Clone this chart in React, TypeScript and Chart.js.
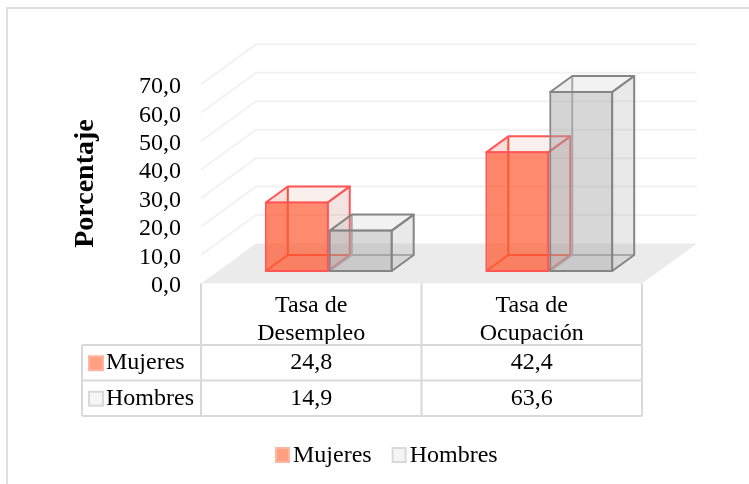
import React, { useEffect, useRef } from "react";
import { Chart, registerables } from "chart.js";

Chart.register(...registerables);

const categories = [["Tasa de", "Desempleo"], ["Tasa de", "Ocupación"]];
const mujeres = [24.8, 42.4];
const hombres = [14.9, 63.6];
const yMax = 70;
const yStep = 10;
const axisMax = 72.05;

const FONT = '"Liberation Serif"';
const fmt = (v: number) => v.toFixed(1).replace(".", ",");

const palette = [
  {
    front: "rgba(255,90,50,0.7)",
    side: "rgba(180,90,70,0.16)",
    top: "rgba(200,100,80,0.1)",
    back: "rgba(255,70,40,0.1)",
    edge: "#FF5555",
    inner: "#FF5238",
    marker: "#FFA083",
    markerEdge: "#FFB5A0",
  },
  {
    front: "rgba(166,166,166,0.45)",
    side: "rgba(166,166,166,0.25)",
    top: "rgba(166,166,166,0.15)",
    back: "rgba(166,166,166,0.06)",
    edge: "#858585",
    inner: "#A8A8A8",
    marker: "#F5F5F5",
    markerEdge: "#D9D9D9",
  },
];

const FLOOR = { dx: 55, dy: -40 };
const BAR = { dx: 22, dy: -16 };
const SHIFT = { x: 17.5, y: -14 };
const PLANE = -2.5; // the drawn floor and walls sit slightly above the tick positions
const GRID = "#F2F2F2";
const TABLE = "#D9D9D9";

function poly(ctx: CanvasRenderingContext2D, pts: number[][], fill?: string) {
  ctx.beginPath();
  pts.forEach((p, i) => (i ? ctx.lineTo(p[0], p[1]) : ctx.moveTo(p[0], p[1])));
  ctx.closePath();
  if (fill) {
    ctx.fillStyle = fill;
    ctx.fill();
  }
}

function seg(ctx: CanvasRenderingContext2D, a: number[], b: number[]) {
  ctx.beginPath();
  ctx.moveTo(a[0], a[1]);
  ctx.lineTo(b[0], b[1]);
  ctx.stroke();
}

function barBox(el: any) {
  return {
    l: el.x - el.width / 2 + 1,
    r: el.x + el.width / 2 - 1,
    t: el.y + 1,
    b: el.base - 1,
  };
}

function backFaces(chart: any, index: number) {
  const { ctx } = chart;
  const c = palette[index];
  const d = BAR;
  for (const el of chart.getDatasetMeta(index).data) {
    const { l, r, t, b } = barBox(el);
    poly(ctx, [[l, b], [r, b], [r + d.dx, b + d.dy], [l + d.dx, b + d.dy]], c.back);
    poly(ctx, [[l, t], [l + d.dx, t + d.dy], [l + d.dx, b + d.dy], [l, b]], c.back);
    ctx.strokeStyle = c.inner;
    ctx.lineWidth = 2;
    seg(ctx, [l, b], [l + d.dx, b + d.dy]);
    seg(ctx, [l + d.dx, b + d.dy], [r + d.dx, b + d.dy]);
    seg(ctx, [l + d.dx, t + d.dy], [l + d.dx, b + d.dy]);
  }
}

function frontFaces(chart: any, index: number) {
  const { ctx } = chart;
  const c = palette[index];
  const d = BAR;
  for (const el of chart.getDatasetMeta(index).data) {
    const { l, r, t, b } = barBox(el);
    ctx.strokeStyle = c.edge;
    ctx.lineWidth = 2;
    ctx.lineJoin = "round";
    poly(ctx, [[l, t], [r, t], [r + d.dx, t + d.dy], [l + d.dx, t + d.dy]], c.top);
    ctx.stroke();
    poly(ctx, [[r, t], [r + d.dx, t + d.dy], [r + d.dx, b + d.dy], [r, b]], c.side);
    ctx.stroke();
  }
}

const scene = {
  id: "scene",
  beforeDatasetsDraw(chart: any) {
    const { ctx, chartArea: a, scales } = chart;
    const y = scales.y;
    ctx.save();
    const y0 = y.getPixelForValue(0) + PLANE;
    poly(
      ctx,
      [
        [a.left, y0],
        [a.left + FLOOR.dx, y0 + FLOOR.dy],
        [a.right + FLOOR.dx, y0 + FLOOR.dy],
        [a.right, y0],
      ],
      "#EBEBEB"
    );
    ctx.strokeStyle = GRID;
    ctx.lineWidth = 2;
    for (let v = yStep; v <= yMax; v += yStep) {
      const p = y.getPixelForValue(v) + PLANE;
      ctx.beginPath();
      ctx.moveTo(a.left, p);
      ctx.lineTo(a.left + FLOOR.dx, p + FLOOR.dy);
      ctx.lineTo(a.right + FLOOR.dx, p + FLOOR.dy);
      ctx.stroke();
    }
    ctx.restore();
    // bars painted left to right, each cuboid wrapped round the library's own bar
    ctx.save();
    ctx.translate(SHIFT.x, SHIFT.y);
    [0, 1].forEach((i) => {
      backFaces(chart, i);
      chart.getDatasetMeta(i).controller.draw();
      frontFaces(chart, i);
    });
    ctx.restore();
    return false;
  },
  afterDraw(chart: any) {
    const { ctx, chartArea: a, scales, data } = chart;
    const x = scales.x;
    const cols = [a.left, a.left + (a.right - a.left) / 2, a.right];
    const labelLeft = 82;
    const tableTop = a.bottom + PLANE;
    const rows = [345, 380.5, 416];
    ctx.save();
    // outer frame: left and top edges only
    ctx.strokeStyle = "#E0E0E0";
    ctx.lineWidth = 2;
    ctx.beginPath();
    ctx.moveTo(7, 484);
    ctx.lineTo(7, 8);
    ctx.lineTo(749, 8);
    ctx.stroke();
    // data table
    ctx.strokeStyle = TABLE;
    ctx.lineWidth = 2;
    cols.forEach((cx) => seg(ctx, [cx, tableTop], [cx, rows[2]]));
    seg(ctx, [labelLeft, rows[0]], [labelLeft, rows[2]]);
    rows.forEach((ry) => seg(ctx, [labelLeft, ry], [a.right, ry]));
    ctx.font = `24px ${FONT}`;
    ctx.textBaseline = "middle";
    data.datasets.forEach((ds: any, i: number) => {
      const cy = (rows[i] + rows[i + 1]) / 2;
      const c = palette[i];
      ctx.fillStyle = c.marker;
      ctx.strokeStyle = c.markerEdge;
      ctx.lineWidth = 2;
      ctx.fillRect(89, cy - 6.5, 14, 14);
      ctx.strokeRect(89, cy - 6.5, 14, 14);
      ctx.fillStyle = "#000";
      ctx.textAlign = "left";
      ctx.fillText(ds.label, 106, cy);
      ctx.textAlign = "center";
      ds.data.forEach((v: number, j: number) => {
        ctx.fillText(fmt(v), x.getPixelForTick(j), cy);
      });
    });
    // legend
    let lx = 276;
    const ly = 455;
    data.datasets.forEach((ds: any, i: number) => {
      const c = palette[i];
      ctx.fillStyle = c.marker;
      ctx.strokeStyle = c.markerEdge;
      ctx.lineWidth = 2;
      ctx.fillRect(lx, ly - 7, 13, 14);
      ctx.strokeRect(lx, ly - 7, 13, 14);
      ctx.fillStyle = "#000";
      ctx.textAlign = "left";
      ctx.fillText(ds.label, lx + 17, ly + 1);
      lx += 17 + ctx.measureText(ds.label).width + 21;
    });
    ctx.restore();
  },
};

export default function App() {
  const ref = useRef<HTMLCanvasElement>(null);
  useEffect(() => {
    const chart = new Chart(ref.current as HTMLCanvasElement, {
      type: "bar",
      data: {
        labels: categories as any,
        datasets: [
          {
            label: "Mujeres",
            data: mujeres,
            clip: false,
            backgroundColor: palette[0].front,
            borderColor: palette[0].edge,
            borderWidth: 2,
            borderSkipped: false,
          },
          {
            label: "Hombres",
            data: hombres,
            clip: false,
            backgroundColor: palette[1].front,
            borderColor: palette[1].edge,
            borderWidth: 2,
            borderSkipped: false,
          },
        ] as any,
      },
      plugins: [scene as any],
      options: {
        responsive: false,
        animation: false,
        devicePixelRatio: 1,
        layout: { padding: { top: 81, right: 107, bottom: 0, left: 0 } },
        datasets: { bar: { barPercentage: 1, categoryPercentage: 0.58 } },
        plugins: { legend: { display: false }, tooltip: { enabled: false } },
        scales: {
          x: {
            grid: { display: false, drawTicks: false },
            border: { display: false },
            ticks: {
              font: { family: FONT, size: 24, lineHeight: 1.15 },
              color: "#000",
              padding: 6,
              maxRotation: 0,
              autoSkip: false,
            },
            afterFit: (s: any) => {
              s.height = 198;
            },
          },
          y: {
            min: 0,
            max: axisMax,
            grid: { display: false, drawTicks: false },
            border: { display: false },
            ticks: {
              stepSize: yStep,
              includeBounds: false,
              autoSkip: false,
              font: { family: FONT, size: 24 },
              color: "#000",
              padding: 20,
              callback: (v: any) => fmt(Number(v)),
            },
            title: {
              display: true,
              text: "Porcentaje",
              color: "#000",
              font: { family: FONT, size: 28, weight: "bold" },
              padding: { top: 69, bottom: 0 },
            },
            afterFit: (s: any) => {
              s.width = 201;
            },
          },
        },
      },
    });
    return () => chart.destroy();
  }, []);
  return (
    <div style={{ position: "absolute", left: 0, top: 0, width: 749, height: 484, background: "#fff" }}>
      <canvas ref={ref} width={749} height={484} style={{ display: "block" }} />
    </div>
  );
}
